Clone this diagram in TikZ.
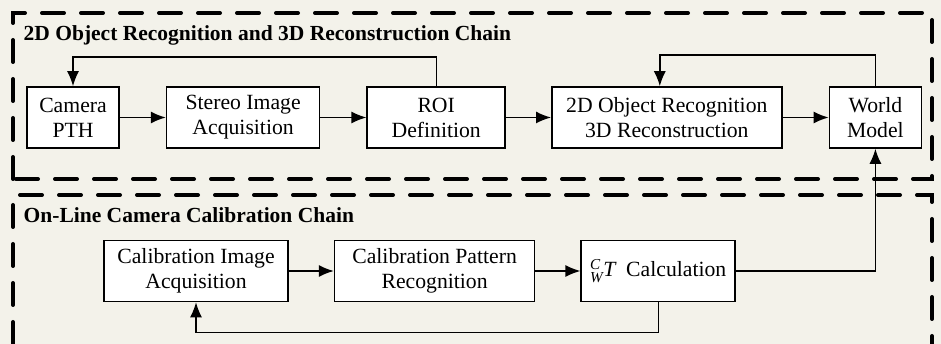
\documentclass[tikz,border=0pt]{standalone}
\usepackage{amsmath}
\usepackage{fontspec}
\setmainfont{Liberation Serif}
\usepackage{xcolor}
\usepackage{tikz}
\usetikzlibrary{arrows.meta}
\usetikzlibrary{calc}
\usetikzlibrary{positioning}

\definecolor{paper}{RGB}{243,242,234}

\begin{document}
\begin{tikzpicture}[x=1pt,y=1pt,>={Latex[length=15pt,width=12pt]},node distance=46pt,line width=1.4pt]
 	\tikzstyle{blk}=[draw, rectangle, fill=white, line width=1.6pt, align=center, minimum height=61pt, inner sep=2pt, font=\fontsize{21.7}{25}\selectfont]
 	\tikzstyle{chain}=[draw, line width=4pt, line cap=round, dash pattern=on 22pt off 17pt]
 	\tikzstyle{ttl}=[anchor=base west, inner sep=0pt, font=\fontsize{21.5}{24}\selectfont\bfseries]
 	\fill[paper] (0,0) rectangle (941,344);
 	\useasboundingbox (0,0) rectangle (941,344);
 	% the two chains
 	\draw[chain] (13,165) rectangle (932,331);
 	\draw[chain] (13,0) -- (13,149) -- (932,149) -- (932,0);
 	\node[ttl] (T1) at (23,303.5) {2D Object Recognition and 3D Reconstruction Chain};
 	\node[ttl] (T2) at (23,121) {On-Line Camera Calibration Chain};
 	% upper row
 	\node[blk, minimum width=92pt]  (cam)   at (73,226.5) {Camera\\PTH};
 	\node[blk, minimum width=153pt] (stereo) [right=of cam]   {Stereo Image\\Acquisition};
 	\node[blk, minimum width=138pt] (roi)    [right=of stereo] {ROI\\Definition};
 	\node[blk, minimum width=230pt] (rec)    [right=45pt of roi] {2D Object Recognition\\3D Reconstruction};
 	\node[blk, minimum width=92pt]  (world)  [right=of rec]    {World\\Model};
 	% lower row
 	\node[blk, minimum width=184pt] (calib)  at (196,73) {Calibration Image\\Acquisition};
 	\node[blk, minimum width=200pt] (patt)   [right=45pt of calib] {Calibration Pattern\\Recognition};
 	\node[blk, minimum width=154pt] (calc)   [right=45pt of patt]  {${}^{\text{\itshape C}}_{\text{\itshape W}}\text{\itshape T}$\ \ Calculation};
 	\path[->]
 		(cam) edge (stereo)
 		(stereo) edge (roi)
 		(roi) edge (rec)
 		(rec) edge (world)
 		(calib) edge (patt)
 		(patt) edge (calc);
 	% feedback loops
 	\draw[->] (roi.north) -- ++(0,29pt) -| (cam.north);
 	\draw[->] (world.north) -- ++(0,31pt) -| ([xshift=-7pt]rec.north);
 	\draw[->] (calc.east) -| (world.south);
 	\draw[->] (calc.south) -- ++(0,-30pt) -| (calib.south);
\end{tikzpicture}
\end{document}
